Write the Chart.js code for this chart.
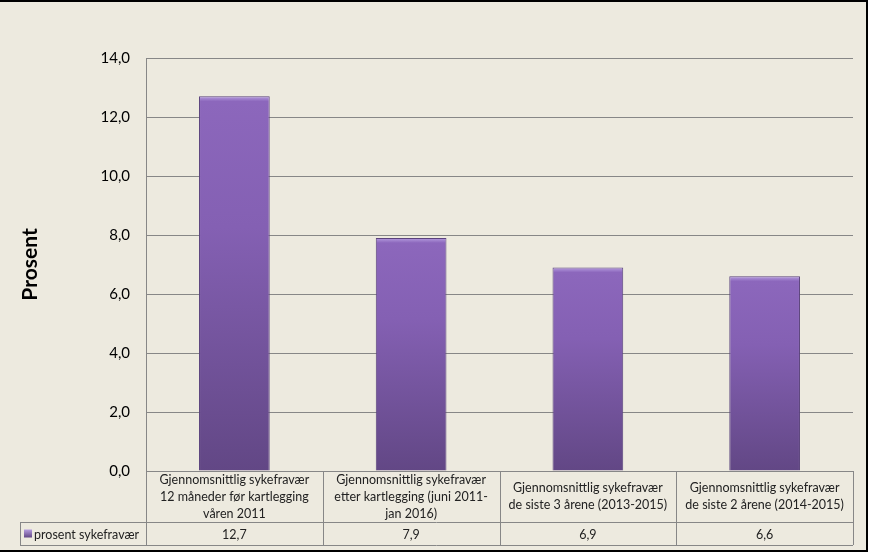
<!DOCTYPE html>
<html>
<head>
<meta charset="utf-8">
<script src="https://cdn.jsdelivr.net/npm/chart.js@4/dist/chart.umd.min.js"></script>
<style>
  html, body { margin: 0; padding: 0; background: #fff; }
  #wrap { width: 870px; height: 556px; }
</style>
</head>
<body>
<div id="wrap"><canvas id="sykefravaerChart" width="870" height="556"></canvas></div>
<script>
var categories = [
    ['Gjennomsnittlig sykefravær', '12 måneder før kartlegging', 'våren 2011'],
    ['Gjennomsnittlig sykefravær', 'etter kartlegging (juni 2011-', 'jan 2016)'],
    ['Gjennomsnittlig sykefravær', 'de siste 3 årene (2013-2015)'],
    ['Gjennomsnittlig sykefravær', 'de siste 2 årene (2014-2015)']
];
var seriesName = 'prosent sykefravær';
var values = [12.7, 7.9, 6.9, 6.6];
var axisTitle = 'Prosent';

var FONT = 'Lato, "Open Sans", sans-serif';
var gridColor = '#878787';

function fmt(v) {
    return v.toFixed(1).replace('.', ',');
}

// bar fill: vertical gradient per bar with a light cap on top
function barFill(context) {
    var chart = context.chart;
    var y = chart.scales.y;
    if (!chart.chartArea || !y || context.raw == null) return '#7f5fae';
    var top = y.getPixelForValue(context.raw);
    var bottom = y.getPixelForValue(0);
    var g = chart.ctx.createLinearGradient(0, top, 0, bottom);
    var cap = Math.min(5 / (bottom - top), 0.2);
    g.addColorStop(0, '#b69de0');
    g.addColorStop(cap, '#8c67bc');
    g.addColorStop(0.35, '#8460b3');
    g.addColorStop(1, '#624785');
    return g;
}

// frame + background
var frame = {
    id: 'frame',
    beforeDraw: function (chart) {
        var ctx = chart.ctx;
        ctx.save();
        ctx.fillStyle = '#ffffff';
        ctx.fillRect(0, 0, chart.width, chart.height);
        ctx.fillStyle = '#edeadf';
        ctx.fillRect(0, 0, 867, 551);
        ctx.strokeStyle = '#000';
        ctx.lineWidth = 2;
        ctx.beginPath();
        ctx.moveTo(0, 1);
        ctx.lineTo(867, 1);
        ctx.lineTo(867, 551);
        ctx.lineTo(0, 551);
        ctx.stroke();
        ctx.restore();
    }
};

// Excel style data table under the plot
var dataTable = {
    id: 'dataTable',
    afterDraw: function (chart) {
        var ctx = chart.ctx;
        var area = chart.chartArea;
        var xs = chart.scales.x;
        var n = categories.length;
        var colW = (area.right - area.left) / n;
        var rowTop = area.bottom;
        var rowMid = rowTop + 51;
        var rowBot = rowMid + 23;
        var legLeft = 20;

        ctx.save();
        ctx.strokeStyle = gridColor;
        ctx.lineWidth = 1;
        ctx.beginPath();
        // horizontal lines
        ctx.moveTo(area.left, rowTop + 0.5); ctx.lineTo(area.right, rowTop + 0.5);
        ctx.moveTo(legLeft, rowMid + 0.5); ctx.lineTo(area.right, rowMid + 0.5);
        ctx.moveTo(legLeft, rowBot + 0.5); ctx.lineTo(area.right, rowBot + 0.5);
        // vertical lines
        for (var i = 0; i <= n; i++) {
            var x = Math.round(area.left + i * colW) + 0.5;
            ctx.moveTo(x, rowTop); ctx.lineTo(x, rowBot);
        }
        ctx.moveTo(legLeft + 0.5, rowMid); ctx.lineTo(legLeft + 0.5, rowBot);
        ctx.stroke();

        ctx.fillStyle = '#222';
        ctx.font = '12.5px ' + FONT;
        ctx.textAlign = 'center';
        ctx.textBaseline = 'middle';
        categories.forEach(function (lines, i) {
            var cx = xs.getPixelForValue(i);
            var lh = 17;
            var y0 = (rowTop + rowMid) / 2 - (lines.length - 1) * lh / 2;
            lines.forEach(function (t, k) {
                ctx.fillText(t, cx, y0 + k * lh);
            });
            ctx.fillText(fmt(values[i]), cx, (rowMid + rowBot) / 2 + 1);
        });

        // legend key
        var ky = (rowMid + rowBot) / 2;
        var kg = ctx.createLinearGradient(0, ky - 4, 0, ky + 4);
        kg.addColorStop(0, '#b69de0');
        kg.addColorStop(1, '#624785');
        ctx.fillStyle = kg;
        ctx.fillRect(legLeft + 4, ky - 4, 8, 8);
        ctx.fillStyle = '#222';
        ctx.textAlign = 'left';
        ctx.fillText(seriesName, legLeft + 14, ky + 1);
        ctx.restore();
    }
};

var ctx = document.getElementById('sykefravaerChart').getContext('2d');
var chart = new Chart(ctx, {
    type: 'bar',
    data: {
        labels: categories,
        datasets: [{
            label: seriesName,
            data: values,
            backgroundColor: barFill,
            borderColor: '#5b437d',
            borderWidth: 1,
            categoryPercentage: 1,
            barPercentage: 0.4
        }]
    },
    options: {
        responsive: false,
        animation: false,
        layout: {
            padding: { left: 10, top: 58, right: 17, bottom: 85 }
        },
        plugins: {
            legend: { display: false },
            tooltip: { enabled: false }
        },
        scales: {
            x: {
                grid: { display: false, drawTicks: false },
                border: { display: false },
                ticks: { display: false }
            },
            y: {
                min: 0,
                max: 14,
                afterFit: function (scale) { scale.width = 136; },
                grid: { color: gridColor, drawTicks: false },
                border: { display: true, color: gridColor },
                ticks: {
                    stepSize: 2,
                    padding: 16,
                    color: '#000',
                    font: { family: FONT, size: 15 },
                    callback: function (v) { return fmt(v); }
                },
                title: {
                    display: true,
                    text: axisTitle,
                    color: '#000',
                    font: { family: FONT, size: 21, weight: 'bold' },
                    padding: { top: 8 }
                }
            }
        }
    },
    plugins: [frame, dataTable]
});
</script>
</body>
</html>
